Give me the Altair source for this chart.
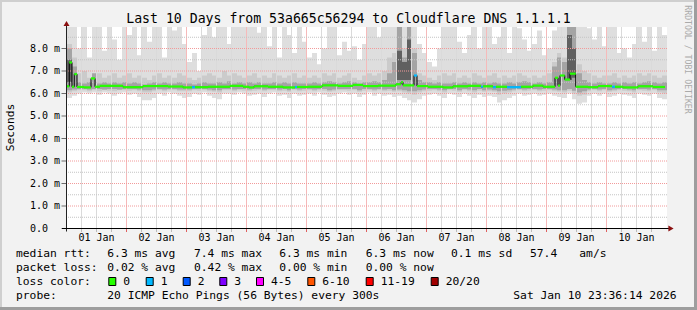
import altair as alt
import pandas as pd

# ---------------- data ----------------
TITLE = "Last 10 Days from 53a665c56294 to Cloudflare DNS 1.1.1.1"
Y_TITLE = "Seconds"
WATERMARK = "RRDTOOL / TOBI OETIKER"
DAY_LABELS = ["01 Jan", "02 Jan", "03 Jan", "04 Jan", "05 Jan",
              "06 Jan", "07 Jan", "08 Jan", "09 Jan", "10 Jan"]
Y_TICKS = [0, 1, 2, 3, 4, 5, 6, 7, 8]
Y_LABELS = ["0.0", "1.0 m", "2.0 m", "3.0 m", "4.0 m", "5.0 m", "6.0 m", "7.0 m", "8.0 m"]

T_START = 0.2
T_END = 240.2
BIN_HOURS = 2.0

SMOKE_TOP = [
    9.0, 9.0, 8.0, 9.0, 7.6, 9.0, 9.0, 7.9, 9.0, 8.4, 7.5, 9.0,
    8.6, 9.0, 7.7, 9.0, 8.3, 9.0, 9.0, 7.6, 9.0, 8.8, 9.0, 8.2,
    7.4, 7.8, 7.0, 8.6, 9.0, 8.5, 9.0, 9.0, 8.2, 9.0, 9.0, 9.0,
    9.0, 9.0, 8.7, 9.0, 8.1, 9.0, 7.6, 9.0, 8.6, 7.8, 9.0, 8.3,
    7.6, 7.8, 7.3, 8.0, 9.0, 9.0, 7.7, 8.3, 7.9, 8.1, 7.5, 8.2,
    9.0, 9.0, 8.5, 9.0, 9.0, 9.0, 9.0, 9.0, 9.0, 9.0, 8.2, 7.8,
    7.4, 7.2, 8.0, 9.0, 9.0, 9.0, 8.3, 7.8, 8.6, 9.0, 8.0, 9.0,
    9.0, 8.2, 8.5, 9.0, 7.8, 9.0, 8.9, 8.4, 7.9, 8.2, 8.8, 7.7,
    8.0, 8.8, 9.0, 9.0, 9.0, 9.0, 9.0, 9.0, 8.9, 8.4, 9.0, 8.1,
    9.0, 9.0, 7.8, 8.0, 7.6, 8.2, 9.0, 8.3, 9.0, 7.9, 9.0, 8.6]
SMOKE_BOT = [
    5.8, 5.9, 6.0, 6.05, 6.0, 6.05, 5.95, 6.05, 6.0, 5.9, 6.0, 6.05,
    5.95, 6.0, 5.85, 5.7, 5.7, 5.8, 6.0, 5.9, 6.05, 6.0, 5.9, 5.8,
    5.85, 6.0, 5.95, 6.05, 5.9, 5.8, 5.75, 6.0, 6.0, 5.95, 6.05, 6.0,
    5.9, 5.95, 6.0, 5.85, 6.0, 6.05, 5.9, 5.95, 5.8, 6.0, 5.9, 5.95,
    6.0, 5.9, 6.05, 5.95, 5.85, 5.9, 6.0, 6.05, 5.95, 6.0, 5.85, 5.95,
    6.05, 5.9, 6.0, 5.9, 5.95, 5.85, 5.9, 5.8, 5.7, 5.6, 5.75, 5.9,
    5.95, 6.0, 5.9, 5.8, 6.0, 5.95, 5.85, 6.0, 5.9, 5.8, 5.95, 5.85,
    5.9, 5.85, 5.6, 5.7, 5.8, 5.9, 6.0, 5.9, 5.95, 6.0, 5.9, 5.95,
    6.0, 5.9, 5.85, 5.8, 6.0, 5.75, 5.55, 5.6, 5.9, 6.0, 5.9, 6.0,
    5.85, 5.9, 6.0, 5.95, 5.9, 5.8, 6.0, 5.95, 5.9, 6.0, 5.8, 5.75]
MID_TOP = [
    8.2, 7.6, 6.9, 7.0, 6.7, 6.8, 6.9, 6.7, 6.8, 6.9, 6.7, 6.8,
    6.9, 6.7, 6.8, 6.7, 6.6, 6.8, 6.9, 6.7, 6.8, 6.7, 6.9, 6.8,
    6.7, 6.6, 6.7, 6.8, 6.9, 6.8, 6.7, 7.0, 6.8, 6.9, 6.8, 6.7,
    6.8, 6.9, 6.7, 6.8, 6.7, 6.9, 6.8, 6.7, 6.8, 6.9, 6.7, 6.8,
    6.7, 6.8, 6.7, 6.9, 6.8, 6.9, 6.7, 6.8, 6.9, 6.7, 6.6, 6.8,
    6.9, 6.8, 6.9, 7.0, 7.6, 7.8, 9.0, 8.0, 9.0, 8.0, 6.9, 6.8,
    6.7, 6.6, 6.8, 6.9, 6.8, 6.9, 6.7, 6.8, 6.7, 6.9, 6.8, 6.7,
    6.8, 6.9, 6.7, 6.8, 6.7, 6.8, 6.9, 6.8, 6.7, 6.8, 6.7, 6.8,
    6.9, 7.4, 7.8, 7.6, 9.0, 9.0, 7.3, 7.0, 6.9, 6.8, 6.7, 6.8,
    6.8, 6.9, 6.7, 6.8, 6.7, 6.8, 6.9, 6.8, 6.9, 6.8, 6.7, 6.8]
MID_BOT = [
    6.05, 6.1, 6.15, 6.15, 6.1, 6.15, 6.1, 6.15, 6.12, 6.1, 6.15, 6.15,
    6.12, 6.15, 6.1, 6.05, 6.05, 6.1, 6.15, 6.1, 6.15, 6.15, 6.1, 6.1,
    6.1, 6.15, 6.12, 6.15, 6.1, 6.08, 6.05, 6.15, 6.15, 6.1, 6.15, 6.12,
    6.1, 6.12, 6.15, 6.1, 6.15, 6.15, 6.1, 6.12, 6.08, 6.15, 6.1, 6.12,
    6.15, 6.1, 6.15, 6.12, 6.08, 6.1, 6.15, 6.15, 6.12, 6.15, 6.08, 6.12,
    6.15, 6.1, 6.15, 6.1, 6.12, 6.08, 6.1, 6.05, 6.0, 5.95, 6.05, 6.1,
    6.12, 6.15, 6.1, 6.05, 6.15, 6.12, 6.08, 6.15, 6.1, 6.05, 6.12, 6.08,
    6.1, 6.08, 5.95, 6.0, 6.05, 6.1, 6.15, 6.1, 6.12, 6.15, 6.1, 6.12,
    6.15, 6.1, 6.08, 6.05, 6.12, 6.0, 5.9, 5.95, 6.1, 6.15, 6.1, 6.15,
    6.08, 6.1, 6.15, 6.12, 6.1, 6.05, 6.15, 6.12, 6.1, 6.15, 6.05, 6.0]
DARK_TOP = [
    8.0, 7.2, 6.5, 6.45, 6.5, 6.9, 6.45, 6.5, 6.45, 6.5, 6.45, 6.5,
    6.45, 6.5, 6.45, 6.4, 6.45, 6.5, 6.45, 6.5, 6.45, 6.45, 6.5, 6.45,
    6.45, 6.4, 6.45, 6.5, 6.45, 6.45, 6.5, 6.45, 6.55, 6.45, 6.5, 6.45,
    6.5, 6.45, 6.5, 6.45, 6.45, 6.5, 6.45, 6.5, 6.45, 6.5, 6.45, 6.45,
    6.45, 6.5, 6.45, 6.5, 6.55, 6.5, 6.45, 6.5, 6.55, 6.5, 6.45, 6.5,
    6.5, 6.55, 6.5, 6.6, 6.9, 7.4, 9.0, 7.6, 9.0, 7.8, 6.6, 6.5,
    6.5, 6.45, 6.5, 6.45, 6.45, 6.5, 6.45, 6.5, 6.45, 6.5, 6.45, 6.5,
    6.45, 6.5, 6.45, 6.45, 6.5, 6.45, 6.5, 6.55, 6.5, 6.45, 6.5, 6.45,
    6.5, 7.2, 7.6, 7.4, 9.0, 9.0, 6.9, 6.6, 6.5, 6.45, 6.5, 6.45,
    6.45, 6.5, 6.45, 6.5, 6.45, 6.5, 6.45, 6.5, 6.55, 6.5, 6.45, 6.5]
DARK_BOT = [
    6.15, 6.18, 6.2, 6.2, 6.18, 6.2, 6.2, 6.18, 6.2, 6.2, 6.18, 6.2,
    6.2, 6.2, 6.18, 6.15, 6.15, 6.18, 6.2, 6.18, 6.2, 6.2, 6.18, 6.18,
    6.18, 6.2, 6.2, 6.2, 6.18, 6.15, 6.15, 6.2, 6.2, 6.18, 6.2, 6.2,
    6.18, 6.2, 6.2, 6.18, 6.2, 6.2, 6.18, 6.2, 6.15, 6.2, 6.18, 6.2,
    6.2, 6.18, 6.2, 6.2, 6.15, 6.18, 6.2, 6.2, 6.2, 6.2, 6.15, 6.2,
    6.2, 6.18, 6.2, 6.18, 6.2, 6.15, 6.18, 6.15, 6.1, 6.1, 6.15, 6.18,
    6.2, 6.2, 6.18, 6.15, 6.2, 6.2, 6.15, 6.2, 6.18, 6.15, 6.2, 6.15,
    6.18, 6.15, 6.1, 6.12, 6.15, 6.18, 6.2, 6.18, 6.2, 6.2, 6.18, 6.2,
    6.2, 6.18, 6.15, 6.15, 6.2, 6.12, 6.05, 6.1, 6.18, 6.2, 6.18, 6.2,
    6.15, 6.18, 6.2, 6.2, 6.18, 6.15, 6.2, 6.2, 6.18, 6.2, 6.15, 6.15]
CORE_BIN = [0, 66, 67, 68, 100, 101]
CORE_LO = [6.5, 6.6, 6.6, 6.6, 6.6, 6.7]
CORE_HI = [7.5, 7.9, 7.4, 8.4, 8.6, 8.0]

MED_START = [0.2, 1.1, 2.2, 3.1, 4.2, 7.0, 9.8, 11.4, 13.4, 22.6, 30.6, 40.6, 46.6,
             50.2, 51.4, 56.6, 65.4, 70.6, 73.0, 75.0, 80.6, 86.6, 91.4, 92.2, 96.6,
             102.2, 108.6, 114.6, 118.6, 124.6, 131.8, 133.8, 134.6, 139.0, 140.2,
             144.6, 150.6, 154.6, 160.6, 165.8, 166.6, 170.6, 171.8, 176.2, 181.8,
             186.6, 190.6, 195.4, 196.6, 197.4, 199.3, 201.4, 203.7, 208.6, 212.6,
             218.2, 219.4, 222.6, 228.6, 234.6]
MED_VALUE = [6.32, 7.38, 6.30, 6.86, 6.29, 6.27, 6.67, 6.30, 6.34, 6.28, 6.33, 6.31, 6.27,
             6.28, 6.28, 6.30, 6.34, 6.30, 6.27, 6.32, 6.30, 6.27, 6.29, 6.29, 6.30,
             6.36, 6.34, 6.38, 6.33, 6.35, 6.41, 6.50, 6.36, 6.80, 6.33,
             6.30, 6.27, 6.32, 6.34, 6.30, 6.32, 6.28, 6.30, 6.28, 6.30,
             6.35, 6.30, 6.70, 6.35, 6.80, 6.62, 6.88, 6.30, 6.28, 6.33,
             6.30, 6.30, 6.27, 6.32, 6.29]
MED_LOSS = ["0", "0", "0", "0", "0", "0", "0", "0", "0", "0", "0", "0", "0",
            "1", "0", "0", "0", "0", "0", "0", "0", "0", "1", "0", "0",
            "0", "0", "0", "0", "0", "0", "0", "0", "1", "0",
            "0", "0", "0", "0", "1", "0", "1", "0", "1", "0",
            "0", "0", "0", "0", "0", "0", "0", "0", "0", "0",
            "1", "0", "0", "0", "0"]
MED_END = 239.4

LOSS_KEYS = ["0", "1", "2", "3", "4-5", "6-10", "11-19", "20/20"]
LOSS_COLORS = ["#26ff00", "#00b8ff", "#0059ff", "#7e00ff", "#ff00ff", "#ff5500", "#ff0000", "#a10000"]

LEGEND_LINES = [
    ["median rtt:", "6.3 ms avg", "7.4 ms max", "6.3 ms min", "6.3 ms now", "0.1 ms sd", "57.4", "am/s"],
    ["packet loss:", "0.02 % avg", "0.42 % max", "0.00 % min", "0.00 % now"],
    ["loss color:"],
    ["probe:", "20 ICMP Echo Pings (56 Bytes) every 300s", "Sat Jan 10 23:36:14 2026"],
]

# ---------------- layout & style ----------------
W, H = 600, 201.5
PL, PT, PR, PB = 67, 27, 30, 81.5
Y_LO, Y_HI = 0.0, 8.9556
FONT = "DejaVu Sans Mono"
LEG_X = [[16, 107.3, 194, 279.3, 365.7, 451, 530, 579.3],
         [16, 107.3, 194, 279.3, 365.7],
         [16],
         [16, 107.3, 513.3]]
LEG_Y = [254.3, 268.3, 281.7, 296]
BOX_X = [108.3, 145.7, 182.7, 219.3, 256, 307.3, 365.7, 430.7]
C_LIGHT, C_MID, C_DARK, C_CORE = "#dedede", "#cbcbcb", "#a4a4a4", "#606060"
C_MINOR, C_MAJOR = "#c4c4c4", "#f29a9a"
C_VMINOR, C_VMAJOR = "#dadada", "#f6baba"   # solid vertical grid, same average tone as the dots
HALF_PX_H = 0.2   # hours = half a pixel on the time axis

xs = alt.Scale(domain=[T_START, T_END], nice=False, zero=False)
ys = alt.Scale(domain=[Y_LO, Y_HI], nice=False, zero=False)

n = len(SMOKE_TOP)
bins = pd.DataFrame({
    "x0": [T_START + BIN_HOURS * i for i in range(n)],
    "x1": [T_START + BIN_HOURS * (i + 1) for i in range(n)],
    "top": SMOKE_TOP, "bot": SMOKE_BOT,
    "mtop": MID_TOP, "mbot": MID_BOT,
    "dtop": DARK_TOP, "dbot": DARK_BOT,
})
core = pd.DataFrame({
    "x0": [T_START + BIN_HOURS * b for b in CORE_BIN],
    "x1": [T_START + BIN_HOURS * (b + 1) for b in CORE_BIN],
    "lo": CORE_LO, "hi": CORE_HI,
})


def smoke(lo, hi, color):
    return alt.Chart(bins).mark_rect(color=color, clip=True).encode(
        x=alt.X("x0:Q", scale=xs, axis=None), x2="x1:Q",
        y=alt.Y(lo + ":Q", scale=ys, axis=None), y2=hi + ":Q")


light = smoke("bot", "top", C_LIGHT)
mid = smoke("mbot", "mtop", C_MID)
dark = smoke("dbot", "dtop", C_DARK)
core_l = alt.Chart(core).mark_rect(color=C_CORE, clip=True).encode(
    x=alt.X("x0:Q", scale=xs, axis=None), x2="x1:Q",
    y=alt.Y("lo:Q", scale=ys, axis=None), y2="hi:Q")

# grid
hours = list(range(6, 240, 6))
grid_v = pd.DataFrame({
    "gt": [h * 1.0 for h in hours],
    "ga": [h - HALF_PX_H for h in hours], "gb": [h + HALF_PX_H for h in hours],
    "kind": ["major" if h % 24 == 0 else "minor" for h in hours]})
grid_h = pd.DataFrame({"v": [k * 0.5 for k in range(1, 18)],
                       "kind": ["major" if k % 2 == 0 else "minor" for k in range(1, 18)]})
kind_scale = alt.Scale(domain=["minor", "major"], range=[C_MINOR, C_MAJOR])
vkind_scale = alt.Scale(domain=["minor", "major"], range=[C_VMINOR, C_VMAJOR])

vgrid_rule = alt.Chart(grid_v).mark_rule(strokeWidth=1).encode(
    x=alt.X("gt:Q", scale=xs, axis=None),
    color=alt.Color("kind:N", scale=vkind_scale, legend=None))
vgrid_rect = alt.Chart(grid_v).mark_rect().encode(
    x=alt.X("ga:Q", scale=xs, axis=None), x2="gb:Q",
    y=alt.value(0), y2=alt.value(H),
    color=alt.Color("kind:N", scale=vkind_scale, legend=None))
hgrid = alt.Chart(grid_h).mark_rule(strokeDash=[1, 1], strokeWidth=1).encode(
    y=alt.Y("v:Q", scale=ys, axis=None),
    color=alt.Color("kind:N", scale=kind_scale, legend=None))
x_ticks = alt.Chart(grid_v).mark_rect().encode(
    x=alt.X("ga:Q", scale=xs, axis=None), x2="gb:Q",
    y=alt.value(H + 0.5), y2=alt.value(H + 3.5),
    color=alt.Color("kind:N", scale=alt.Scale(domain=["minor", "major"], range=["#bbbbbb", "#e06060"]),
                    legend=None))

# axis labels & ticks
x_lab = pd.DataFrame({"h": [12.0 + 24 * k for k in range(len(DAY_LABELS))], "lab": DAY_LABELS})
y_lab = pd.DataFrame({"v": [float(v) for v in Y_TICKS], "lab": Y_LABELS})
x_text = alt.Chart(x_lab).mark_text(font=FONT, fontSize=10, color="black", baseline="middle").encode(
    x=alt.X("h:Q", scale=xs, axis=None), y=alt.value(H + 9.2), text="lab:N")
y_text = alt.Chart(y_lab).mark_text(font=FONT, fontSize=10, color="black", baseline="middle", align="left").encode(
    y=alt.Y("v:Q", scale=ys, axis=None), x=alt.value(-37), text="lab:N")
y_ticks = alt.Chart(y_lab).mark_tick(color="#333333", orient="horizontal", size=5, thickness=1).encode(
    y=alt.Y("v:Q", scale=ys, axis=None), x=alt.value(-3))

# median line
ends = MED_START[1:] + [MED_END]
med = pd.DataFrame({"x0": MED_START, "x1": ends, "v": MED_VALUE, "loss": MED_LOSS})
step_pts = pd.DataFrame({"x": MED_START + [MED_END], "v": MED_VALUE + [MED_VALUE[-1]]})
med_step = alt.Chart(step_pts).mark_line(interpolate="step-after", color="black", strokeWidth=1).encode(
    x=alt.X("x:Q", scale=xs, axis=None), y=alt.Y("v:Q", scale=ys, axis=None))
med_green = alt.Chart(med).mark_rule(strokeWidth=2.2).encode(
    x=alt.X("x0:Q", scale=xs, axis=None), x2="x1:Q",
    y=alt.Y("v:Q", scale=ys, axis=None),
    color=alt.Color("loss:N", scale=alt.Scale(domain=LOSS_KEYS, range=LOSS_COLORS), legend=None))

one = pd.DataFrame({"a": [0], "b": [1]})
yaxis_line = alt.Chart(one).mark_rule(color="#222222").encode(
    x=alt.value(-0.5), y=alt.value(-5), y2=alt.value(H + 3))
xaxis_line = alt.Chart(one).mark_rule(color="black").encode(
    x=alt.value(-5), x2=alt.value(W + 3), y=alt.value(H))
arrow_up = alt.Chart(one).mark_point(shape="triangle-up", filled=True, color="#8b1010", size=36, opacity=1).encode(
    x=alt.value(-0.5), y=alt.value(-3.5))
arrow_right = alt.Chart(one).mark_point(shape="triangle-right", filled=True, color="#8b1010", size=36, opacity=1).encode(
    x=alt.value(W + 4), y=alt.value(H))


def band(x0, x1, y0, y1, color):
    return alt.Chart(one).mark_rect(color=color).encode(
        x=alt.value(x0 - PL), x2=alt.value(x1 - PL), y=alt.value(y0 - PT), y2=alt.value(y1 - PT))


frame = [band(0, 697, 0, 2, "#cfcfcf"), band(0, 2, 0, 310, "#cfcfcf"),
         band(694, 697, 0, 310, "#9e9e9e"), band(0, 697, 307, 310, "#9e9e9e")]

rows = []
for line, xs_, y in zip(LEGEND_LINES, LEG_X, LEG_Y):
    for t, x in zip(line, xs_):
        rows.append({"t": t, "px": x - PL, "py": y - PT})
for key, bx in zip(LOSS_KEYS, BOX_X):
    rows.append({"t": key, "px": bx + 15 - PL, "py": LEG_Y[2] - PT})
legend_text = pd.DataFrame(rows)


def text_layer(df, size, color="black", angle=0, align="left"):
    return alt.Chart(df).mark_text(font=FONT, fontSize=size, color=color, angle=angle,
                                   align=align, baseline="middle").encode(
        x=alt.X("px:Q", scale=None, axis=None), y=alt.Y("py:Q", scale=None, axis=None), text="t:N")


legend_l = text_layer(legend_text, 11.3)
title_l = text_layer(pd.DataFrame({"t": [TITLE], "px": [348.5 - PL], "py": [19 - PT]}), 13.2, align="center")
ytitle_l = text_layer(pd.DataFrame({"t": [Y_TITLE], "px": [11 - PL], "py": [127.5 - PT]}), 11.3, angle=270, align="center")
wm_l = text_layer(pd.DataFrame({"t": [WATERMARK], "px": [687 - PL], "py": [59.5 - PT]}), 8.2,
                  color="#aaaaaa", angle=90, align="center")

boxes = pd.DataFrame({
    "bx": [b + 0.5 - PL for b in BOX_X], "bx2": [b + 7.5 - PL for b in BOX_X],
    "by": [277.5 - PT] * len(BOX_X), "by2": [285.5 - PT] * len(BOX_X), "c": LOSS_COLORS})
boxes_l = alt.Chart(boxes).mark_rect(stroke="black", strokeWidth=1).encode(
    x=alt.X("bx:Q", scale=None, axis=None), x2="bx2:Q",
    y=alt.Y("by:Q", scale=None, axis=None), y2="by2:Q",
    fill=alt.Fill("c:N", scale=None, legend=None))

chart = alt.layer(
    light, mid, dark, core_l, vgrid_rect, vgrid_rule, hgrid, med_step, med_green,
    x_ticks, y_ticks, yaxis_line, xaxis_line, arrow_up, arrow_right,
    x_text, y_text,
    *frame, legend_l, boxes_l, title_l, ytitle_l, wm_l,
).resolve_scale(color="independent").properties(
    width=W, height=H,
    padding={"left": PL, "top": PT, "right": PR, "bottom": PB},
    autosize=alt.AutoSizeParams(type="none"),
).configure(background="#f2f2f2").configure_view(fill="white", stroke=None)

chart.save("out.html", embed_options={"renderer": "svg", "actions": False})
